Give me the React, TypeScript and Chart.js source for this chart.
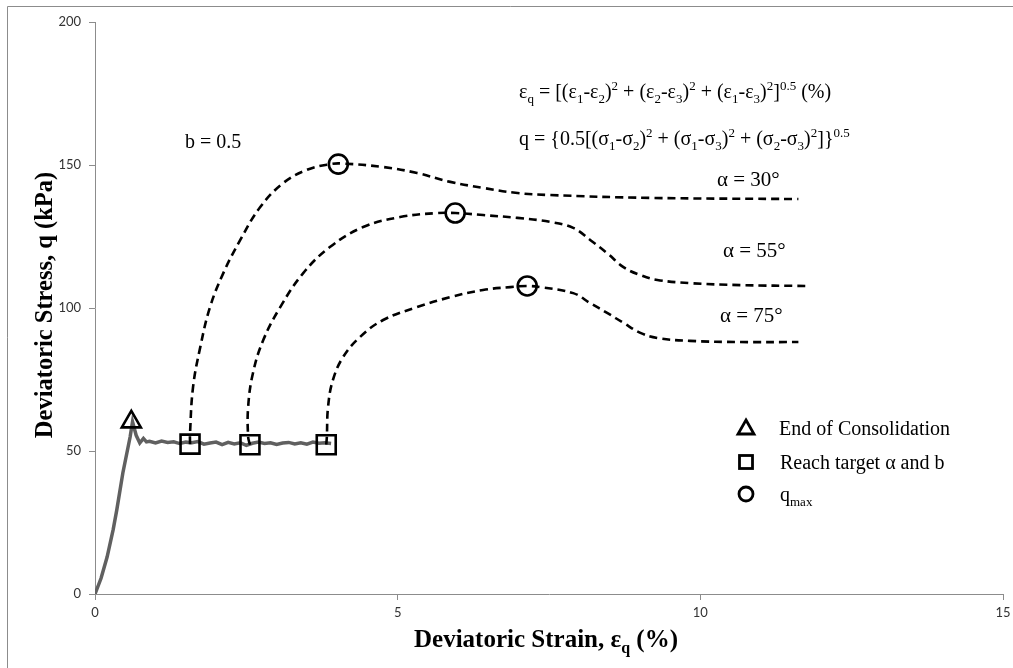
import React, { useEffect, useRef } from "react";
import { Chart, registerables } from "chart.js";

Chart.register(...registerables);

// ---------- DATA ----------
const grayStrain = [
  0, 0.1, 0.2, 0.3, 0.36, 0.46, 0.58, 0.62, 0.68, 0.74, 0.8, 0.85,
  0.9, 1.0, 1.1, 1.2, 1.3, 1.4, 1.5, 1.6, 1.7, 1.8, 1.9, 2.0, 2.1, 2.2, 2.3,
  2.4, 2.5, 2.6, 2.7, 2.8, 2.9, 3.0, 3.1, 3.2, 3.3, 3.4, 3.5, 3.6, 3.7, 3.8, 3.9,
];
const grayStress = [
  0, 5.5, 12.9, 22.5, 29.4, 42.3, 54.9, 60.2, 55.5, 52.8, 54.4, 53.2,
  53.4, 52.8, 53.5, 53.0, 53.2, 52.6, 53.1, 52.9, 53.3, 52.4, 52.8, 53.1, 52.2,
  53.0, 52.5, 52.9, 52.0, 52.7, 53.1, 52.6, 52.9, 52.3, 52.8, 53.0, 52.5, 52.9,
  52.4, 53.1, 52.7, 52.9, 52.6,
];

const a30Strain = [1.57, 1.57, 1.62, 1.74, 1.9, 2.12, 2.4, 2.73, 3.11, 3.5, 3.88, 4.1, 4.76, 5.32, 5.87, 6.41, 6.98, 7.52, 9.17, 11.62];
const a30Stress = [52.4, 56.3, 72.4, 86.4, 100.3, 112.2, 123.8, 135.3, 143.7, 148.3, 150.3, 150.5, 149.3, 147.2, 144.1, 142.0, 140.2, 139.5, 138.5, 138.1];

const a55Strain = [2.56, 2.53, 2.53, 2.61, 2.78, 3.06, 3.44, 3.88, 4.43, 5.04, 5.65, 5.95, 6.41, 6.98, 7.52, 7.9, 8.18, 8.46, 8.73, 9.01, 9.29, 9.83, 10.66, 11.77];
const a55Stress = [52.2, 54.9, 65.4, 77.3, 88.8, 100.3, 112.2, 121.3, 128.3, 131.8, 133.2, 133.2, 132.5, 131.5, 130.1, 128.0, 123.8, 119.2, 114.3, 111.5, 109.8, 108.7, 108.0, 107.7];

const a75Strain = [3.82, 3.83, 3.85, 3.93, 4.1, 4.38, 4.76, 5.32, 5.87, 6.41, 6.86, 7.14, 7.36, 7.9, 8.18, 8.46, 8.73, 9.01, 9.29, 9.83, 10.66, 11.62];
const a75Stress = [52.2, 54.9, 65.4, 74.8, 82.9, 89.9, 95.8, 100.3, 103.8, 106.3, 107.3, 107.7, 107.3, 105.2, 101.7, 98.3, 94.8, 91.3, 89.5, 88.5, 88.1, 88.1];

const consolStrain = [0.6];
const consolStress = [60.2];
const targetStrain = [1.57, 2.56, 3.82];
const targetStress = [52.4, 52.2, 52.2];
const qmaxStrain = [4.02, 5.95, 7.14];
const qmaxStress = [150.3, 133.2, 107.7];

const xTicks = [0, 5, 10, 15];
const yTicks = [0, 50, 100, 150, 200];

const curveLabels = ["α = 30°", "α = 55°", "α = 75°"];
const legendLabels = ["End of Consolidation", "Reach target α and b"];

// ---------- HELPERS ----------
type Part = [string, "n" | "sub" | "sup"];
const SERIF = "'Liberation Serif', 'Times New Roman', serif";

function drawRich(
  ctx: CanvasRenderingContext2D,
  x: number,
  y: number,
  parts: Part[],
  size: number,
  weight = "normal",
  align: "left" | "center" = "left"
) {
  const fontFor = (k: string) =>
    k === "n" ? `${weight} ${size}px ${SERIF}` : `${weight} ${Math.round(size * 0.64)}px ${SERIF}`;
  let total = 0;
  for (const [t, k] of parts) {
    ctx.font = fontFor(k);
    total += ctx.measureText(t).width;
  }
  let cx = align === "center" ? x - total / 2 : x;
  ctx.textAlign = "left";
  ctx.textBaseline = "alphabetic";
  for (const [t, k] of parts) {
    ctx.font = fontFor(k);
    const dy = k === "sub" ? size * 0.24 : k === "sup" ? -size * 0.4 : 0;
    ctx.fillText(t, cx, y + dy);
    cx += ctx.measureText(t).width;
  }
}

function toPts(xs: number[], ys: number[]) {
  return xs.map((x, i) => ({ x, y: ys[i] }));
}

const annotationPlugin = {
  id: "annotations",
  beforeDraw(chart: any) {
    const ctx = chart.ctx as CanvasRenderingContext2D;
    ctx.save();
    ctx.strokeStyle = "#8c8c8c";
    ctx.lineWidth = 1;
    ctx.beginPath();
    ctx.moveTo(7.5, 700);
    ctx.lineTo(7.5, 6.5);
    ctx.lineTo(1100, 6.5);
    ctx.stroke();
    ctx.restore();
  },
  afterDraw(chart: any) {
    const ctx = chart.ctx as CanvasRenderingContext2D;
    const area = chart.chartArea;
    ctx.save();
    ctx.fillStyle = "#000";

    // Axis titles
    drawRich(ctx, (area.left + area.right) / 2 - 3, 647, [["Deviatoric Strain, ε", "n"], ["q", "sub"], [" (%)", "n"]], 25, "bold", "center");
    ctx.save();
    ctx.translate(52, 305);
    ctx.rotate(-Math.PI / 2);
    drawRich(ctx, 0, 0, [["Deviatoric Stress, q (kPa)", "n"]], 24.5, "bold", "center");
    ctx.restore();

    // Annotations
    drawRich(ctx, 185, 148, [["b = 0.5", "n"]], 20);
    drawRich(ctx, 519, 98, [
      ["ε", "n"], ["q", "sub"], [" = [(ε", "n"], ["1", "sub"], ["-ε", "n"], ["2", "sub"], [")", "n"], ["2", "sup"],
      [" + (ε", "n"], ["2", "sub"], ["-ε", "n"], ["3", "sub"], [")", "n"], ["2", "sup"],
      [" + (ε", "n"], ["1", "sub"], ["-ε", "n"], ["3", "sub"], [")", "n"], ["2", "sup"],
      ["]", "n"], ["0.5", "sup"], [" (%)", "n"],
    ], 20);
    drawRich(ctx, 519, 145, [
      ["q = {0.5[(σ", "n"], ["1", "sub"], ["-σ", "n"], ["2", "sub"], [")", "n"], ["2", "sup"],
      [" + (σ", "n"], ["1", "sub"], ["-σ", "n"], ["3", "sub"], [")", "n"], ["2", "sup"],
      [" + (σ", "n"], ["2", "sub"], ["-σ", "n"], ["3", "sub"], [")", "n"], ["2", "sup"],
      ["]}", "n"], ["0.5", "sup"],
    ], 20);
    drawRich(ctx, 717, 186, [[curveLabels[0], "n"]], 21);
    drawRich(ctx, 723, 257, [[curveLabels[1], "n"]], 21);
    drawRich(ctx, 720, 322, [[curveLabels[2], "n"]], 21);

    // Legend
    ctx.strokeStyle = "#000";
    ctx.lineWidth = 2.8;
    const lx = 746;
    ctx.beginPath();
    ctx.moveTo(lx, 420);
    ctx.lineTo(lx + 8, 434);
    ctx.lineTo(lx - 8, 434);
    ctx.closePath();
    ctx.stroke();
    ctx.strokeRect(lx - 6.5, 455.5, 13, 13);
    ctx.beginPath();
    ctx.arc(lx, 494, 7, 0, Math.PI * 2);
    ctx.stroke();

    drawRich(ctx, 779, 435, [[legendLabels[0], "n"]], 20);
    drawRich(ctx, 780, 469, [[legendLabels[1], "n"]], 20);
    drawRich(ctx, 780, 501, [["q", "n"], ["max", "sub"]], 20);
    ctx.restore();
  },
};

export default function App() {
  const ref = useRef<HTMLCanvasElement>(null);
  useEffect(() => {
    if (!ref.current) return;
    const dashed = {
      type: "line" as const,
      borderColor: "#000",
      borderWidth: 2.6,
      borderDash: [8, 5],
      pointRadius: 0,
      tension: 0.4,
      fill: false,
      order: 2,
    };
    const marker = {
      pointBorderWidth: 2.6,
      pointBorderColor: "#000",
      pointBackgroundColor: "rgba(0,0,0,0)",
      showLine: false,
      order: 0,
    };
    const chart = new Chart(ref.current, {
      type: "scatter",
      data: {
        datasets: [
          {
            label: "Test data",
            data: toPts(grayStrain, grayStress),
            showLine: true,
            borderColor: "#606060",
            borderWidth: 3.5,
            pointRadius: 0,
            tension: 0,
            order: 3,
          },
          { ...dashed, label: curveLabels[0], data: toPts(a30Strain, a30Stress) },
          { ...dashed, label: curveLabels[1], data: toPts(a55Strain, a55Stress) },
          { ...dashed, label: curveLabels[2], data: toPts(a75Strain, a75Stress) },
          { ...marker, label: legendLabels[0], data: toPts(consolStrain, consolStress), pointStyle: "triangle", pointRadius: 11 },
          { ...marker, label: legendLabels[1], data: toPts(targetStrain, targetStress), pointStyle: "rect", pointRadius: 13.4 },
          { ...marker, label: "qmax", data: toPts(qmaxStrain, qmaxStress), pointStyle: "circle", pointRadius: 9.5 },
        ],
      } as any,
      options: {
        animation: false,
        responsive: false,
        layout: { autoPadding: false, padding: { top: 22, right: 10, left: 0, bottom: 0 } },
        plugins: { legend: { display: false }, tooltip: { enabled: false } },
        scales: {
          x: {
            type: "linear",
            min: xTicks[0],
            max: xTicks[xTicks.length - 1],
            afterBuildTicks: (s: any) => { s.ticks = xTicks.map((v) => ({ value: v })); },
            afterFit: (s: any) => { s.height = 74; s.paddingLeft = 0; s.paddingRight = 0; },
            grid: { display: true, drawOnChartArea: false, drawTicks: true, tickLength: 6, color: "#8c8c8c" },
            border: { display: true, color: "#8c8c8c", width: 1 },
            ticks: { font: { family: "Lato", size: 13 }, color: "#333", padding: 5, maxRotation: 0 },
          },
          y: {
            type: "linear",
            min: yTicks[0],
            max: yTicks[yTicks.length - 1],
            afterBuildTicks: (s: any) => { s.ticks = yTicks.map((v) => ({ value: v })); },
            afterFit: (s: any) => { s.width = 95; s.paddingTop = 0; s.paddingBottom = 0; },
            grid: { display: true, drawOnChartArea: false, drawTicks: true, tickLength: 6, color: "#8c8c8c" },
            border: { display: true, color: "#8c8c8c", width: 1 },
            ticks: { font: { family: "Lato", size: 13 }, color: "#333", padding: 8 },
          },
        },
      } as any,
      plugins: [annotationPlugin],
    });
    return () => chart.destroy();
  }, []);
  return (
    <div style={{ position: "fixed", left: 0, top: 0, width: 1013, height: 668, background: "#fff" }}>
      <canvas ref={ref} width={1013} height={668} style={{ display: "block" }} />
    </div>
  );
}
